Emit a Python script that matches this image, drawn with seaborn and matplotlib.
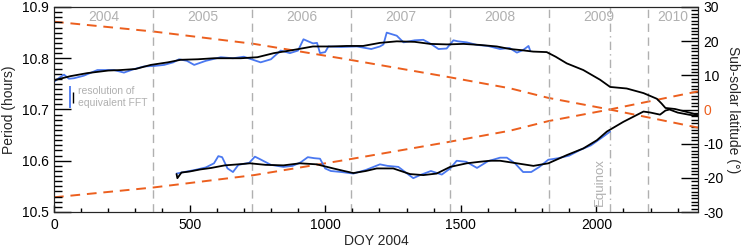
import pandas as pd
import matplotlib
matplotlib.use("Agg")
import matplotlib.pyplot as plt
import seaborn as sns
from matplotlib.ticker import MultipleLocator

# upper branch, smoothed (black)
doy_n = [0, 60, 123, 200, 246, 300, 357, 420, 467, 530, 590, 650, 689, 750, 811, 870, 955,
         1020, 1080, 1140, 1202, 1264, 1330, 1387, 1450, 1510, 1570, 1633, 1682, 1720, 1767,
         1817, 1850, 1891, 1952, 2014, 2051, 2112, 2174, 2223, 2240, 2255, 2290, 2321, 2350, 2375]
per_n = [10.757, 10.765, 10.771, 10.776, 10.777, 10.779, 10.787, 10.792, 10.797, 10.798,
         10.800, 10.800, 10.800, 10.802, 10.810, 10.815, 10.823, 10.823, 10.824, 10.824,
         10.830, 10.833, 10.832, 10.828, 10.827, 10.828, 10.826, 10.823, 10.818, 10.816,
         10.813, 10.812, 10.803, 10.790, 10.777, 10.758, 10.744, 10.741, 10.732, 10.721,
         10.712, 10.703, 10.701, 10.697, 10.693, 10.689]

# upper branch, raw (blue)
doy_nb = [0, 20, 37, 55, 74, 110, 160, 221, 258, 290, 332, 370, 406, 440, 461, 490, 517, 560,
          615, 660, 700, 762, 800, 836, 870, 900, 920, 955, 970, 981, 1000, 1012, 1060, 1117,
          1170, 1202, 1215, 1227, 1264, 1289, 1330, 1362, 1390, 1418, 1448, 1473, 1490, 1522,
          1560, 1600, 1645, 1680, 1707, 1730, 1750, 1756]
per_nb = [10.754, 10.762, 10.768, 10.760, 10.761, 10.766, 10.777, 10.777, 10.772, 10.778,
          10.784, 10.785, 10.787, 10.792, 10.798, 10.795, 10.787, 10.795, 10.802, 10.800,
          10.803, 10.792, 10.798, 10.815, 10.810, 10.815, 10.837, 10.829, 10.830, 10.810,
          10.812, 10.823, 10.822, 10.823, 10.818, 10.823, 10.827, 10.850, 10.844, 10.831,
          10.835, 10.836, 10.828, 10.818, 10.819, 10.835, 10.833, 10.831, 10.826, 10.824,
          10.818, 10.820, 10.811, 10.816, 10.824, 10.815]

# lower branch, smoothed (black)
doy_s = [452, 455, 470, 500, 539, 580, 630, 680, 723, 780, 846, 907, 969, 1030, 1070, 1104,
         1150, 1190, 1251, 1313, 1362, 1411, 1461, 1522, 1570, 1608, 1645, 1707, 1768, 1823,
         1891, 1952, 2002, 2039, 2100, 2137, 2174, 2200, 2235, 2255, 2270, 2300, 2340, 2375]
per_s = [10.574, 10.566, 10.577, 10.579, 10.583, 10.586, 10.591, 10.593, 10.595, 10.592,
         10.591, 10.595, 10.593, 10.585, 10.580, 10.576, 10.580, 10.585, 10.585, 10.574,
         10.572, 10.575, 10.588, 10.595, 10.598, 10.600, 10.600, 10.595, 10.590, 10.595,
         10.611, 10.624, 10.640, 10.657, 10.676, 10.686, 10.696, 10.694, 10.690, 10.698,
         10.700, 10.694, 10.690, 10.687]

# lower branch, raw (blue)
doy_sb = [452, 480, 520, 560, 590, 606, 620, 640, 660, 680, 720, 741, 760, 800, 846, 880,
          910, 936, 960, 981, 1000, 1021, 1060, 1104, 1150, 1202, 1230, 1270, 1300, 1325,
          1350, 1390, 1430, 1461, 1485, 1520, 1560, 1600, 1645, 1670, 1700, 1730, 1760, 1790,
          1823, 1860, 1900, 1940, 1980, 2020, 2051]
per_sb = [10.575, 10.578, 10.582, 10.587, 10.595, 10.609, 10.607, 10.585, 10.578, 10.592,
          10.596, 10.608, 10.603, 10.592, 10.588, 10.590, 10.597, 10.607, 10.605, 10.604,
          10.585, 10.580, 10.578, 10.575, 10.582, 10.593, 10.590, 10.588, 10.576, 10.566,
          10.572, 10.580, 10.573, 10.585, 10.600, 10.598, 10.586, 10.599, 10.606, 10.606,
          10.595, 10.578, 10.578, 10.588, 10.602, 10.605, 10.610, 10.621, 10.630, 10.645,
          10.657]

# sub-solar latitude (deg)
doy_lat = [0, 369, 738, 1080, 1448, 1682, 1823, 2049, 2375]
lat = [-25.7, -22.8, -19.2, -14.7, -9.6, -6.2, -3.4, 0.0, 5.3]

year_starts = [366, 731, 1096, 1461, 1827, 2192]
year_labels = ["2004", "2005", "2006", "2007", "2008", "2009", "2010"]
equinox_doy = 2049

sns.set_style("ticks")
plt.rcParams.update({
    "font.family": ["Liberation Sans", "DejaVu Sans"],
    "axes.unicode_minus": False,
    "xtick.color": "black", "ytick.color": "black",
    "xtick.direction": "in", "ytick.direction": "in",
})

BLUE = "#4a78f0"
ORANGE = "#ec5f1e"
GREY = "#b0b0b0"

fig = plt.figure(figsize=(7.47, 2.5), dpi=100)
rect = [54 / 747, 1 - 212 / 250, 644 / 747, 205 / 250]
ax2 = fig.add_axes(rect)
ax = fig.add_axes(rect, facecolor="none")

# orange sub-solar latitude lines (right axis)
lat_df = pd.DataFrame({"doy": doy_lat, "lat": lat, "neg": [-v for v in lat]})
sns.lineplot(data=lat_df, x="doy", y="neg", ax=ax2, color=ORANGE, lw=1.4,
             linestyle=(0, (5, 3.5)))
sns.lineplot(data=lat_df, x="doy", y="lat", ax=ax2, color=ORANGE, lw=1.4,
             linestyle=(0, (5, 3.5)))
ax2.set_xlim(0, 2375)
ax2.set_ylim(-30, 30)
ax2.yaxis.tick_right()
ax2.yaxis.set_label_position("right")
ax2.xaxis.set_visible(False)
ax2.yaxis.set_major_locator(MultipleLocator(10))
ax2.yaxis.set_minor_locator(MultipleLocator(1))
ax2.tick_params(axis="y", which="major", direction="in", length=12, width=1,
                labelsize=10, pad=4, right=True, left=False)
ax2.tick_params(axis="y", which="minor", direction="in", length=5, width=1,
                right=True, left=False)
ax2.set_ylabel("Sub-solar latitude (\u00b0)", fontsize=10, rotation=270, labelpad=12)
for t in ax2.get_yticklabels():
    pass

# year boundaries and labels
ax.vlines(year_starts, 10.5, 10.9, color=GREY, lw=1.0, linestyles=[(0, (6, 4))], zorder=0)
ax.vlines([equinox_doy], 10.5, 10.9, color=GREY, lw=1.0,
          linestyles=[(0, (6, 3, 1, 3))], zorder=0)
edges = [0] + year_starts + [2375]
for i, lab in enumerate(year_labels):
    ax.text((edges[i] + edges[i + 1]) / 2, 10.881, lab, color=GREY, fontsize=10,
            ha="center", va="center")
ax.text(2012, 10.512, "Equinox", color=GREY, fontsize=9.5, rotation=90,
        ha="center", va="bottom")

# period curves
for x, y, c in [(doy_nb, per_nb, BLUE), (doy_sb, per_sb, BLUE),
                (doy_n, per_n, "black"), (doy_s, per_s, "black")]:
    sns.lineplot(x=x, y=y, ax=ax, color=c, lw=1.3, sort=False, estimator=None)

# FFT resolution markers
ax.vlines([59], 10.703, 10.745, color=BLUE, lw=1.3)
ax.vlines([71], 10.712, 10.735, color="black", lw=1.0)
ax.text(88, 10.724, "resolution of\nequivalent FFT", color=GREY, fontsize=7.5,
        ha="left", va="center", linespacing=1.2)

ax.set_xlim(0, 2375)
ax.set_ylim(10.5, 10.9)
ax.xaxis.set_major_locator(MultipleLocator(500))
ax.xaxis.set_minor_locator(MultipleLocator(100))
ax.yaxis.set_major_locator(MultipleLocator(0.1))
ax.yaxis.set_minor_locator(MultipleLocator(0.01))
ax.tick_params(axis="x", which="major", direction="in", length=5, width=1,
               labelsize=10, pad=4, top=False, bottom=True)
ax.tick_params(axis="x", which="minor", direction="in", length=3, width=1,
               top=False, bottom=True)
ax.tick_params(axis="y", which="major", direction="in", length=12, width=1,
               labelsize=10, pad=4, left=True, right=False)
ax.tick_params(axis="y", which="minor", direction="in", length=6, width=1,
               left=True, right=False)
ax.set_xlabel("DOY 2004", fontsize=10, labelpad=2)
ax.set_ylabel("Period (hours)", fontsize=10, labelpad=4)

fig.canvas.draw()
for t in ax2.get_yticklabels():
    if t.get_text() == "0":
        t.set_color(ORANGE)

fig.savefig("out.png", dpi=100)
